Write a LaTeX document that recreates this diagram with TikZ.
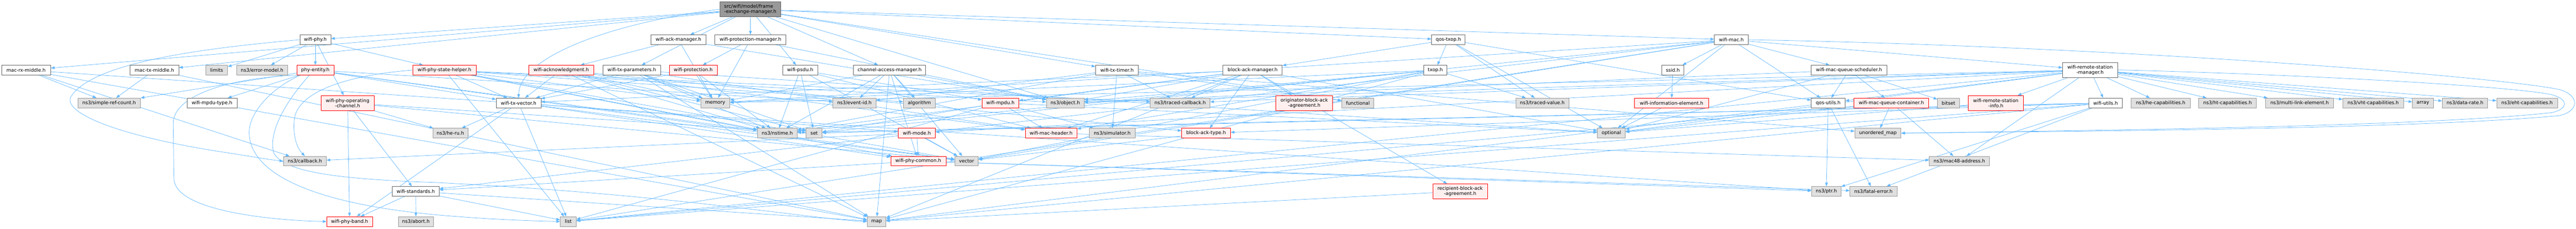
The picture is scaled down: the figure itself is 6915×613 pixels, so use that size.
\documentclass[tikz,border=0pt]{standalone}
\usepackage{fontspec}
\setmainfont{DejaVu Sans}
\usetikzlibrary{arrows.meta}
\pgfdeclarelayer{background}
\pgfsetlayers{background,main}
\definecolor{edgec}{HTML}{63B8FF}
\definecolor{gfill}{HTML}{E0E0E0}
\definecolor{gline}{HTML}{999999}
\definecolor{wline}{HTML}{666666}
\definecolor{rfill}{HTML}{FFF0F0}
\definecolor{rline}{HTML}{FF0000}
\definecolor{rootfill}{HTML}{999999}
\begin{document}
\begin{tikzpicture}[x=0.75pt,y=-0.75pt,
  base/.style={draw, line width=0.75pt, minimum height=19.5pt, inner sep=0pt, align=center,
    font=\fontsize{9.6}{10.4}\selectfont},
  gbox/.style={base, fill=gfill, draw=gline},
  wbox/.style={base, fill=white, draw=wline},
  rbox/.style={base, fill=rfill, draw=rline},
  rootbox/.style={base, fill=rootfill, draw=wline},
  tall/.style={minimum height=30pt},
  bw/.style={minimum width=#1*0.75pt},
  edge/.style={draw=edgec, color=edgec, line width=0.75pt, -{Triangle[length=7.5pt,width=5.5pt]}}]
\useasboundingbox (0,0) rectangle (6915,613);
% row 0
\node[rootbox,bw=164,tall,align=left] (root) at (2014,25) {src/wifi/model/frame\\-exchange-manager.h};
% row 1
\node[wbox,bw=83] (wifiphy) at (846.5,106.5) {wifi-phy.h};
\node[wbox,bw=148] (ackmgr) at (1821,106.5) {wifi-ack-manager.h};
\node[wbox,bw=191] (protmgr) at (2014.5,106.5) {wifi-protection-manager.h};
\node[wbox,bw=90] (qostxop) at (3888,106.5) {qos-txop.h};
\node[wbox,bw=91] (wifimac) at (4647.5,106.5) {wifi-mac.h};
% row 2
\node[wbox,bw=132] (macrx) at (70,188) {mac-rx-middle.h};
\node[wbox,bw=131] (mactx) at (414.5,188) {mac-tx-middle.h};
\node[gbox,bw=59] (limits) at (581.5,188) {limits};
\node[gbox,bw=137] (errmodel) at (703.5,188) {ns3/error-model.h};
\node[rbox,bw=99] (phyentity) at (846.5,188) {phy-entity.h};
\node[rbox,bw=170] (statehelper) at (1193,188) {wifi-phy-state-helper.h};
\node[rbox,bw=175] (acknowledgment) at (1506.5,188) {wifi-acknowledgment.h};
\node[wbox,bw=156] (txparams) at (1696,188) {wifi-tx-parameters.h};
\node[rbox,bw=128] (protection) at (1861,188) {wifi-protection.h};
\node[wbox,bw=94] (psdu) at (2148,188) {wifi-psdu.h};
\node[wbox,bw=194] (cam) at (2388,188) {channel-access-manager.h};
\node[wbox,bw=115] (txtimer) at (2998.5,188) {wifi-tx-timer.h};
\node[wbox,bw=159] (bam) at (3362.5,188) {block-ack-manager.h};
\node[wbox,bw=62] (txop) at (3853,188) {txop.h};
\node[wbox,bw=59] (ssid) at (4490.5,188) {ssid.h};
\node[wbox,bw=203] (scheduler) at (4963.5,188) {wifi-mac-queue-scheduler.h};
\node[wbox,bw=147,tall] (rsm) at (5610.5,187.5) {wifi-remote-station\\-manager.h};
% row 3
\node[gbox,bw=168] (simpleref) at (293,276) {ns3/simple-ref-count.h};
\node[wbox,bw=134] (mpdutype) at (569,276) {wifi-mpdu-type.h};
\node[rbox,bw=142,tall] (opchan) at (933,276) {wifi-phy-operating\\-channel.h};
\node[wbox,bw=120] (txvector) at (1392,276) {wifi-tx-vector.h};
\node[gbox,bw=78] (memory) at (1920,276) {memory};
\node[gbox,bw=115] (eventid) at (2293.5,276) {ns3/event-id.h};
\node[gbox,bw=86] (algorithm) at (2468,276) {algorithm};
\node[rbox,bw=99] (mpdu) at (2685.5,276) {wifi-mpdu.h};
\node[gbox,bw=101] (object) at (2859.5,276) {ns3/object.h};
\node[gbox,bw=160] (tracedcb) at (3168,276) {ns3/traced-callback.h};
\node[rbox,bw=152,tall] (originator) at (3501,276) {originator-block-ack\\-agreement.h};
\node[gbox,bw=86] (functional) at (3645,276) {functional};
\node[gbox,bw=142] (tracedval) at (4140,276) {ns3/traced-value.h};
\node[rbox,bw=198] (wie) at (4487,276) {wifi-information-element.h};
\node[wbox,bw=91] (qosutils) at (4907.5,276) {qos-utils.h};
\node[rbox,bw=200] (container) at (5077,276) {wifi-mac-queue-container.h};
\node[gbox,bw=59] (bitset) at (5230.5,276) {bitset};
\node[rbox,bw=147,tall] (info) at (5357.5,276) {wifi-remote-station\\-info.h};
\node[wbox,bw=90] (utils) at (5652,276) {wifi-utils.h};
\node[gbox,bw=158] (hecap) at (5800,276) {ns3/he-capabilities.h};
\node[gbox,bw=155] (htcap) at (5979.5,276) {ns3/ht-capabilities.h};
\node[gbox,bw=182] (mle) at (6173,276) {ns3/multi-link-element.h};
\node[gbox,bw=163] (vhtcap) at (6370.5,276) {ns3/vht-capabilities.h};
\node[gbox,bw=56] (array) at (6504,276) {array};
\node[gbox,bw=122] (datarate) at (6617,276) {ns3/data-rate.h};
\node[gbox,bw=163] (ehtcap) at (6783.5,276) {ns3/eht-capabilities.h};
% row 4
\node[gbox,bw=94] (heru) at (1209,357) {ns3/he-ru.h};
\node[gbox,bw=107] (nstime) at (2086.5,357) {ns3/nstime.h};
\node[gbox,bw=43] (set) at (2185.5,357) {set};
\node[rbox,bw=100] (wifimode) at (2461,357) {wifi-mode.h};
\node[rbox,bw=139] (macheader) at (2821.5,357) {wifi-mac-header.h};
\node[gbox,bw=123] (simulator) at (2985.5,357) {ns3/simulator.h};
\node[rbox,bw=131] (blockacktype) at (3237.5,357) {block-ack-type.h};
\node[gbox,bw=75] (optional) at (4325.5,357) {optional};
\node[gbox,bw=124] (umap) at (5041,357) {unordered\_map};
% row 5
\node[gbox,bw=115] (callback) at (818.5,432) {ns3/callback.h};
\node[rbox,bw=148] (phycommon) at (2465,432) {wifi-phy-common.h};
\node[gbox,bw=63] (vector) at (2594.5,432) {vector};
\node[gbox,bw=161] (mac48) at (5259.5,432) {ns3/mac48-address.h};
% row 6
\node[wbox,bw=126] (standards) at (1116,513) {wifi-standards.h};
\node[rbox,bw=147,tall] (recipient) at (3919.5,513) {recipient-block-ack\\-agreement.h};
\node[gbox,bw=79] (ptr) at (4902.5,513) {ns3/ptr.h};
\node[gbox,bw=126] (fatal) at (5029,513) {ns3/fatal-error.h};
% row 7
\node[rbox,bw=123] (phyband) at (938.5,594) {wifi-phy-band.h};
\node[gbox,bw=95] (abort) at (1116.5,594) {ns3/abort.h};
\node[gbox,bw=43] (list) at (1525.5,594) {list};
\node[gbox,bw=50] (map) at (2353,594) {map};
\begin{pgfonlayer}{background}
\fill[white] (0,0) rectangle (6915,613);
\foreach \t in {macrx,mactx,qostxop,wifimac,wifiphy,psdu,txparams,txtimer,cam,ackmgr,protmgr,object,functional}
  \draw[edge] (root) -- (\t);
\draw[edge] (root.west) .. controls (1650,60) and (1395,150) .. (txvector.north);
\foreach \t in {simpleref,callback,ptr,map} \draw[edge] (macrx) -- (\t);
\foreach \t in {simpleref,map} \draw[edge] (mactx) -- (\t);
\foreach \t in {phyentity,opchan,statehelper,errmodel,limits} \draw[edge] (wifiphy) -- (\t);
\draw[edge] (wifiphy.west) .. controls (600,125) and (250,160) .. (190,260) .. controls (170,300) and (300,360) .. (580,405) .. controls (680,420) and (720,428) .. (callback.west);
\foreach \t in {mpdutype,simpleref,txvector,eventid,nstime,vector} \draw[edge] (phyentity) -- (\t);
\draw[edge] (phyentity.south west) .. controls (600,210) and (466,260) .. (465,330) -- (467,480) .. controls (470,560) and (700,590) .. (phyband.west);
\draw[edge] ([xshift=-30pt]phyentity.south) .. controls (720,240) and (665,310) .. (669,360) .. controls (675,470) and (850,545) .. (1160,575) .. controls (1300,588) and (1420,592) .. (list.west);
\draw[edge] ([xshift=-12pt]phyentity.south) .. controls (760,280) and (720,360) .. (735,410) .. controls (760,460) and (900,480) .. (1160,489) .. controls (1800,520) and (2200,590) .. (map.west);
\foreach \t in {phyband,standards,heru,set,vector} \draw[edge] (opchan) -- (\t);
\foreach \t in {nstime,object,tracedcb,algorithm,list,memory,vector,phycommon,txvector} \draw[edge] (statehelper) -- (\t);
\draw[edge] (statehelper.west) .. controls (950,200) and (800,240) .. (790,320) .. controls (785,370) and (800,400) .. (callback.north);
\foreach \t in {phyband,abort,list,map} \draw[edge] (standards) -- (\t);
\foreach \t in {acknowledgment,memory,object} \draw[edge] (ackmgr) -- (\t);
\foreach \t in {protection,memory,object} \draw[edge] (protmgr) -- (\t);
\foreach \t in {txvector,nstime,memory} \draw[edge] (protection) -- (\t);
\foreach \t in {blockacktype,macheader,txvector,nstime,map,memory,set} \draw[edge] (acknowledgment) -- (\t);
\foreach \t in {macheader,txvector,nstime,map,memory,optional,set} \draw[edge] (txparams) -- (\t);
\foreach \t in {wifimode,phycommon,heru,list,vector,phyband} \draw[edge] (txvector) -- (\t);
\foreach \t in {macheader,mpdu,nstime,set,vector} \draw[edge] (psdu) -- (\t);
\foreach \t in {eventid,nstime,object,algorithm,map,memory,phycommon,vector} \draw[edge] (cam) -- (\t);
\foreach \t in {eventid,nstime,simulator,tracedcb,functional,umap} \draw[edge] (txtimer) -- (\t);
\foreach \t in {originator,recipient,blockacktype,tracedcb,macheader,mpdu,txvector,nstime,object,map,optional} \draw[edge] (bam) -- (\t);
\foreach \t in {txop,bam,qosutils,tracedval,optional} \draw[edge] (qostxop) -- (\t);
\foreach \t in {macheader,nstime,object,tracedval,map,memory,vector} \draw[edge] (txop) -- (\t);
\foreach \t in {ssid,qosutils,scheduler,rsm,standards,list,memory,optional,set,vector} \draw[edge] (wifimac) -- (\t);
\draw[edge] (ssid) -- (wie);
\draw[edge] (wie) -- (optional);
\foreach \t in {qosutils,container,bitset,object,optional} \draw[edge] (scheduler) -- (\t);
\foreach \t in {ptr,fatal,map} \draw[edge] (qosutils) -- (\t);
\foreach \t in {umap,mac48,list,optional} \draw[edge] (container) -- (\t);
\foreach \t in {info,utils,hecap,htcap,mle,vhtcap,array,datarate,ehtcap,mac48,qosutils,wifimode,object,tracedcb,list,memory,optional} \draw[edge] (rsm) -- (\t);
\draw[edge] (info) -- (optional);
\foreach \t in {blockacktype,fatal,nstime,ptr,list,map,set} \draw[edge] (utils) -- (\t);
\foreach \t in {macheader,simulator,list,optional,set} \draw[edge] (mpdu) -- (\t);
\draw[edge] (macheader) -- (mac48);
\foreach \t in {phycommon,vector,callback} \draw[edge] (wifimode) -- (\t);
\foreach \t in {standards,fatal,ptr} \draw[edge] (phycommon) -- (\t);
\draw[edge] (blockacktype) -- (vector);
\draw[edge] (recipient) -- (map);
\draw[edge] (wifimac.east) .. controls (5700,125) and (6700,205) .. (6870,240) .. controls (6925,255) and (6925,298) .. (6870,310) .. controls (6500,345) and (5600,352) .. (umap.east);
\draw[edge] (rsm.east) .. controls (6200,200) and (6750,232) .. (6850,254) .. controls (6895,266) and (6895,292) .. (6850,302) .. controls (6500,340) and (5600,350) .. (umap.east);
\end{pgfonlayer}
\end{tikzpicture}
\end{document}
